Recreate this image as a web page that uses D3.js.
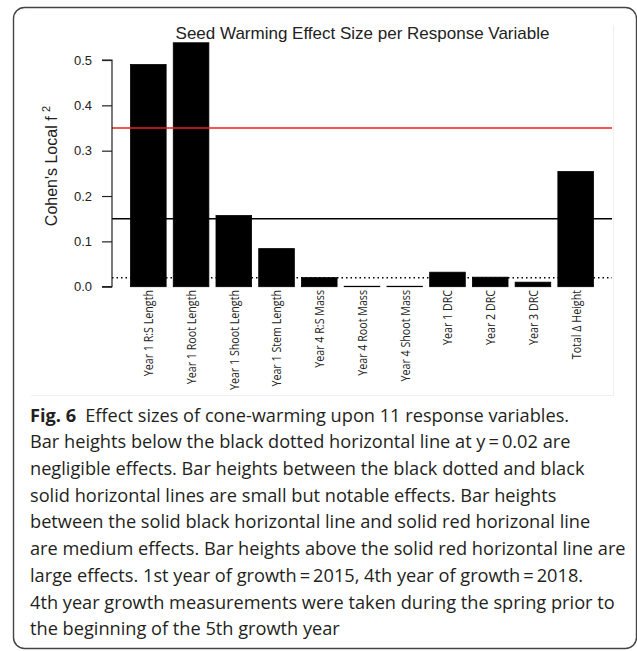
<!DOCTYPE html>
<html>
<head>
<meta charset="utf-8">
<script src="https://cdn.jsdelivr.net/npm/d3@7"></script>
<style>
  body { margin: 0; background: #fff; }
  svg { display: block; }
</style>
</head>
<body>
<svg width="637" height="651"></svg>
<script>
// response variables, in plotted order
const categories = ["Year 1 R:S Length", "Year 1 Root Length", "Year 1 Shoot Length",
  "Year 1 Stem Length", "Year 4 R:S Mass", "Year 4 Root Mass", "Year 4 Shoot Mass",
  "Year 1 DRC", "Year 2 DRC", "Year 3 DRC", "Total \u0394 Height"];
// Cohen's local f^2
const effectSizes = [0.490, 0.538, 0.157, 0.084, 0.020, 0.001, 0.001, 0.032, 0.021, 0.010, 0.254];
const yTicks = [0.0, 0.1, 0.2, 0.3, 0.4, 0.5];
// thresholds: negligible / small / medium
const thresholds = [
  {v: 0.02, color: "#000", dash: "1.5,3"},
  {v: 0.15, color: "#000", dash: null},
  {v: 0.35, color: "#f21d1d", dash: null}
];
const captionLines = [
  "Effect sizes of cone-warming upon 11 response variables.",
  "Bar heights below the black dotted horizontal line at y\u2009=\u20090.02 are",
  "negligible effects. Bar heights between the black dotted and black",
  "solid horizontal lines are small but notable effects. Bar heights",
  "between the solid black horizontal line and solid red horizonal line",
  "are medium effects. Bar heights above the solid red horizontal line are",
  "large effects. 1st year of growth\u2009=\u20092015, 4th year of growth\u2009=\u20092018.",
  "4th year growth measurements were taken during the spring prior to",
  "the beginning of the 5th growth year"
];

const svg = d3.select("svg");

// outer rounded frame
svg.append("rect")
  .attr("x", 13.5).attr("y", 7.5)
  .attr("width", 623).attr("height", 641)
  .attr("rx", 11)
  .attr("fill", "none")
  .attr("stroke", "#444")
  .attr("stroke-width", 1.4);

// faint edge of the embedded figure image
svg.append("path")
  .attr("d", "M613.5,25 V395.5 H31")
  .attr("fill", "none")
  .attr("stroke", "#efefef")
  .attr("stroke-width", 1);

// barplot-like positions: width 1, space 0.2
const x = d3.scaleLinear().domain([-0.32, 13.72]).range([112, 612]);
const y = d3.scaleLinear().domain([0, 0.5]).range([286.7, 60]);

const g = svg.append("g");

// bars
g.selectAll("rect.bar")
  .data(effectSizes)
  .enter().append("rect")
  .attr("class", "bar")
  .attr("x", (d, i) => x(0.2 + i * 1.2))
  .attr("width", x(1) - x(0))
  .attr("y", d => y(d))
  .attr("height", d => y(0) - y(d))
  .attr("fill", "#000")
  .attr("stroke", "#000")
  .attr("stroke-width", 0.8);

// threshold lines
g.selectAll("line.thr")
  .data(thresholds)
  .enter().append("line")
  .attr("class", "thr")
  .attr("x1", 112).attr("x2", 612)
  .attr("y1", d => y(d.v)).attr("y2", d => y(d.v))
  .attr("stroke", d => d.color)
  .attr("stroke-width", 1.5)
  .attr("stroke-dasharray", d => d.dash);

// y axis
const yAxis = d3.axisLeft(y).tickValues(yTicks).tickFormat(d3.format(".1f")).tickSize(10).tickPadding(10);
const ya = svg.append("g").attr("transform", "translate(112,0)").call(yAxis);
ya.select(".domain").attr("stroke", "#222").attr("stroke-width", 1.2).attr("d", "M-10," + y(0) + "H0V" + y(0.5) + "H-10");
ya.selectAll(".tick line").attr("stroke", "#222").attr("stroke-width", 1.2);
ya.selectAll(".tick text")
  .attr("font-family", "Liberation Sans, Arial, sans-serif")
  .attr("font-size", 13)
  .attr("fill", "#222");

// y axis title
const yt = svg.append("text")
  .attr("transform", "translate(57,166) rotate(-90)")
  .attr("text-anchor", "middle")
  .attr("font-family", "Liberation Sans, Arial, sans-serif")
  .attr("font-size", 16)
  .attr("fill", "#222");
yt.append("tspan").text("Cohen's Local f ");
yt.append("tspan").attr("font-size", 11).attr("dy", -7).text("2");

// chart title
svg.append("text")
  .attr("x", 362.5).attr("y", 39)
  .attr("text-anchor", "middle")
  .attr("font-family", "Liberation Sans, Arial, sans-serif")
  .attr("font-size", 17)
  .attr("fill", "#222")
  .text("Seed Warming Effect Size per Response Variable");

// category labels, vertical, narrowed to a Calibri-like width
const xl = svg.append("g").selectAll("text")
  .data(categories)
  .enter().append("text")
  .attr("transform", (d, i) => "translate(" + x(0.7 + i * 1.2) + ",290) rotate(-90)")
  .attr("text-anchor", "end")
  .attr("dy", "0.36em")
  .attr("font-family", "Open Sans, sans-serif")
  .attr("font-size", 13.5)
  .attr("fill", "#222")
  .text(d => d);
const drcNode = xl.filter(d => d === "Year 1 DRC").node();
const xlK = 55 / drcNode.getComputedTextLength();
xl.each(function() {
  const w = this.getComputedTextLength();
  d3.select(this).attr("textLength", w * xlK).attr("lengthAdjust", "spacingAndGlyphs");
});

// caption, narrowed horizontally so line 8 spans 30..615
const cap = svg.append("g")
  .attr("font-family", "Open Sans, sans-serif")
  .attr("fill", "#231f20");
const capText = cap.selectAll("text")
  .data(captionLines)
  .enter().append("text")
  .attr("x", 0)
  .attr("y", (d, i) => 421.7 + i * 26.7)
  .attr("font-size", 17.5);
capText.each(function(d, i) {
  const t = d3.select(this);
  if (i === 0) {
    t.append("tspan").attr("font-weight", "bold").text("Fig. 6");
    t.append("tspan").text("\u2002" + d);
  } else {
    t.text(d);
  }
});
const ref = capText.filter((d, i) => i === 7).node();
const sx = 585 / ref.getComputedTextLength();
cap.attr("transform", "translate(30,0) scale(" + sx + ",1)");
</script>
</body>
</html>
